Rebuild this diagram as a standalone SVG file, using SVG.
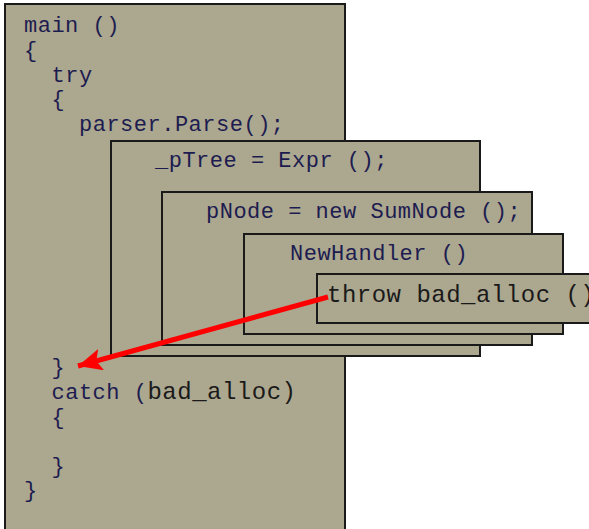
<svg xmlns="http://www.w3.org/2000/svg" width="589" height="529" viewBox="0 0 589 529">
<style>
.box{fill:#aca78f;stroke:#1a1a1a;stroke-width:2}
text{font-family:"Liberation Mono","Courier New",monospace;font-size:22px;letter-spacing:0.5px;fill:#1c1c50}
.blk{fill:#1a1a1a;font-size:24px}
</style>
<defs>
<marker id="ah" markerUnits="userSpaceOnUse" markerWidth="30" markerHeight="24" refX="24" refY="11" orient="auto">
<polygon points="0,0 24,11 0,22 5,11" fill="#ff0000"/>
</marker>
</defs>
<rect width="589" height="529" fill="#ffffff"/>
<g id="main">
<rect class="box" x="5" y="4" width="340" height="530"/>
<text x="24" y="32">main ()</text>
<text x="24" y="57">{</text>
<text x="51.5" y="82">try</text>
<text x="51.5" y="106">{</text>
<text x="79" y="131">parser.Parse();</text>
<text x="51.5" y="374">}</text>
<text x="51.5" y="399">catch (<tspan class="blk">bad_alloc)</tspan></text>
<text x="51.5" y="423.5">{</text>
<text x="51.5" y="472.5">}</text>
<text x="24" y="497">}</text>
</g>
<g id="parse">
<rect class="box" x="111" y="141" width="369" height="215"/>
<text x="155" y="167">_pTree = Expr ();</text>
</g>
<g id="expr">
<rect class="box" x="162" y="192" width="370" height="153"/>
<text x="206" y="218">pNode = new SumNode ();</text>
</g>
<g id="sumnode">
<rect class="box" x="244" y="234" width="319" height="100"/>
<text x="290" y="260">NewHandler ()</text>
</g>
<g id="newhandler">
<rect class="box" x="317" y="274" width="290" height="49"/>
<text class="blk" x="327" y="302">throw bad_alloc ()</text>
</g>
<g id="connectors">
<line x1="328" y1="297" x2="78" y2="366" stroke="#ff0000" stroke-width="5" marker-end="url(#ah)"/>
</g>
</svg>
